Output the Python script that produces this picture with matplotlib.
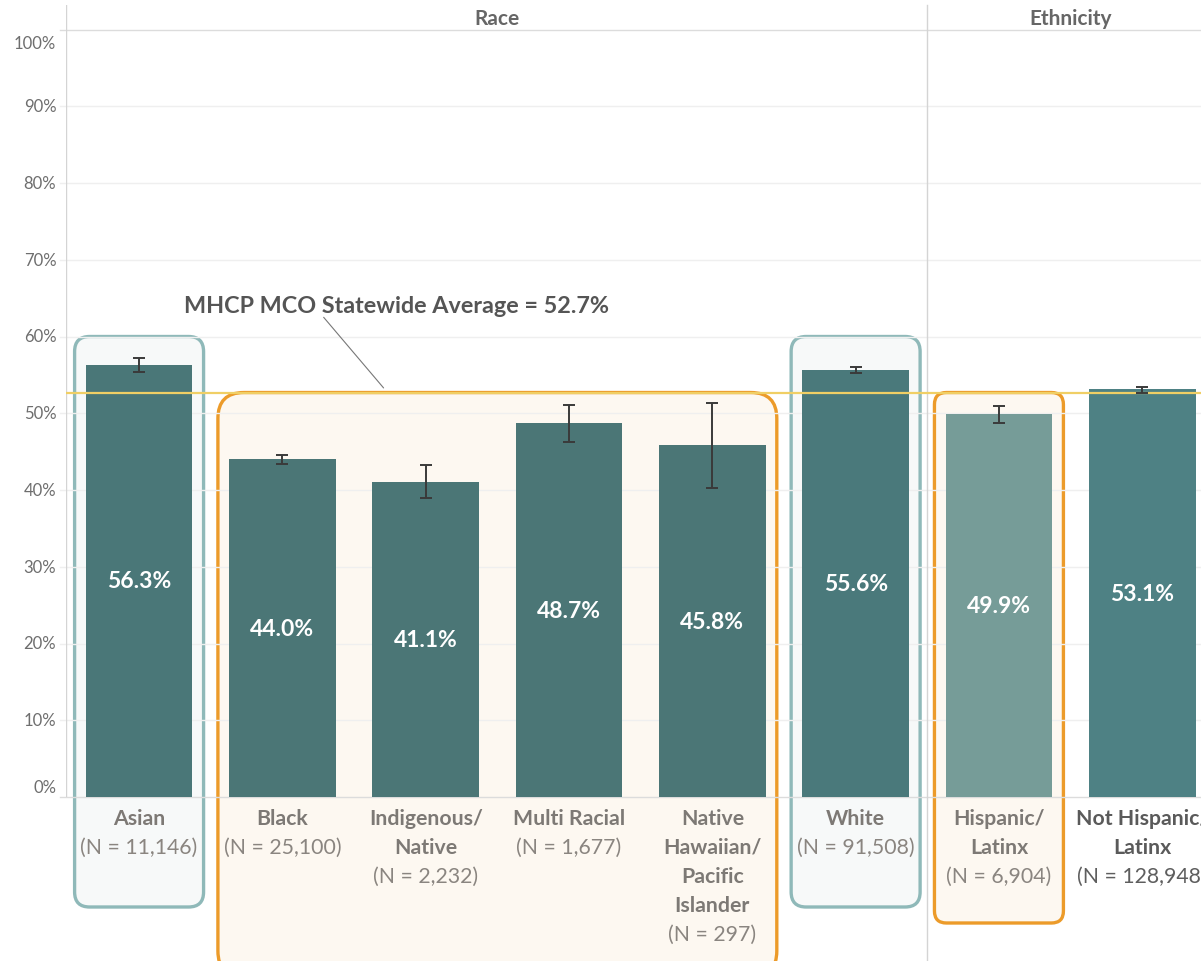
import matplotlib.pyplot as plt
from matplotlib.patches import FancyBboxPatch
from matplotlib.lines import Line2D
from matplotlib.transforms import IdentityTransform

plt.rcParams['font.family'] = ['Lato', 'DejaVu Sans']

# data
categories = ["Asian", "Black", "Indigenous/\nNative", "Multi Racial",
              "Native\nHawaiian/\nPacific\nIslander", "White",
              "Hispanic/\nLatinx", "Not Hispanic/\nLatinx"]
n_counts = ["11,146", "25,100", "2,232", "1,677", "297", "91,508", "6,904", "128,948"]
rates = [56.3, 44.0, 41.1, 48.7, 45.8, 55.6, 49.9, 53.1]
ci_low = [55.4, 43.4, 39.0, 46.2, 40.2, 55.2, 48.7, 52.7]
ci_high = [57.2, 44.6, 43.2, 51.1, 51.3, 56.0, 51.0, 53.4]
bar_colors = ["#4a7778", "#4b7676", "#4b7676", "#4b7676", "#4b7676",
              "#4a797b", "#769c98", "#4e8184"]
statewide_avg = 52.7
groups = [("Race", 0, 5), ("Ethnicity", 6, 7)]
yticks = list(range(0, 101, 10))

# highlight boxes: (first bar, last bar, top value, bottom offset in px below 0, style)
highlights = [(0, 0, 60, 110, "teal"), (5, 5, 60, 110, "teal"),
              (1, 4, statewide_avg, 180, "orange"), (6, 6, statewide_avg, 126, "orange")]
box_styles = {"teal": dict(fc="#f7f9f9", ec="#8fb9b9", r=15),
              "orange": dict(fc="#fdf8f1", ec="#ec9b2a", r=12)}

fig = plt.figure(figsize=(12.01, 9.62), dpi=100)
H = 962.0
ax = fig.add_axes([66 / 1201, 1 - 798 / H, 1 - 66 / 1201, (798 - 6) / H])
ax.set_xlim(-0.51, 7.41)
ax.set_ylim(0, (798 - 6) / 7.675)
for s in ax.spines.values():
    s.set_visible(False)
ax.set_xticks([])
ax.set_yticks([])

x = list(range(len(categories)))

# gridlines
for v in yticks:
    c = "#dcdcdc" if v in (0, 100) else "#efefef"
    ax.axhline(v, color=c, lw=1, zorder=0.8, xmin=-6 / 1135, clip_on=False)

# left spine and group separator drawn full height
ax.add_line(Line2D([66, 66], [0, H - 6], transform=IdentityTransform(), color="#d4d4d4", lw=1))
ax.axvline(5.5, ymin=-170 / 792, ymax=1, color="#d4d4d4", lw=1, clip_on=False, zorder=0.8)

# highlight boxes
fig.canvas.draw()
for first, last, top, below, style in highlights:
    st = box_styles[style]
    x0, y1 = ax.transData.transform((first - 0.45, top))
    x1, y0 = ax.transData.transform((last + 0.45, 0))
    y0 -= below
    r = 26 if last > first else st["r"]
    box = FancyBboxPatch((x0, y0), x1 - x0, y1 - y0,
                         boxstyle=f"round,pad=0,rounding_size={r}",
                         transform=IdentityTransform(), fc=st["fc"], ec=st["ec"],
                         lw=2.4, zorder=0.5, clip_on=False)
    ax.add_patch(box)

# bars and error bars
ax.bar(x, rates, width=0.745, color=bar_colors, zorder=2)
lower = [r - lo for r, lo in zip(rates, ci_low)]
upper = [hi - r for r, hi in zip(rates, ci_high)]
ax.errorbar(x, rates, yerr=[lower, upper], fmt="none", ecolor="#3a3a3a",
            elinewidth=1.4, capsize=4, capthick=1.4, zorder=3)

# statewide average
ax.axhline(statewide_avg, color="#f0cf65", lw=1.6, zorder=2.5)
ax.text(1.797, 64.1, f"MHCP MCO Statewide Average = {statewide_avg}%",
        ha="center", va="center", fontsize=16.8, fontweight="bold", color="#555555")
ax.annotate("", xy=(1.706, 53.3), xytext=(1.288, 62.5),
            arrowprops=dict(arrowstyle="-", color="#777777", lw=0.8, shrinkA=0, shrinkB=0))

# value labels
for xi, v in zip(x, rates):
    ax.text(xi, v / 2, f"{v:.1f}%", ha="center", va="center", color="white",
            fontsize=16.5, fontweight="bold", zorder=4)

# y tick labels (ends nudged inward)
for v in yticks:
    dy = 7 if v == 0 else (-10 if v == 100 else 0)
    ax.annotate(f"{v}%", xy=(0, v), xycoords=ax.get_yaxis_transform(),
                xytext=(-7, dy), textcoords="offset points", ha="right", va="center",
                fontsize=12, color="#6e6e6e", annotation_clip=False)

# category labels
for xi, name, n in zip(x, categories, n_counts):
    lines = name.split("\n")
    dark = xi == len(categories) - 1
    c_name = "#5a5a5a" if dark else "#7d7975"
    c_n = "#5e5e5e" if dark else "#8a8580"
    for k, ln in enumerate(lines + [f"(N = {n})"]):
        bold = k < len(lines)
        ax.annotate(ln, xy=(xi, 0), xytext=(0, -(21 + 29 * k) * 0.72),
                    textcoords="offset points", ha="center", va="center",
                    fontsize=15.3, fontweight="bold" if bold else "normal",
                    color=c_name if bold else c_n, annotation_clip=False)

# group headers
for label, a, b in groups:
    ax.text((a + b) / 2, 101.5, label, ha="center", va="center",
            fontsize=15, fontweight="bold", color="#666666")

fig.savefig("out.png", dpi=100)
